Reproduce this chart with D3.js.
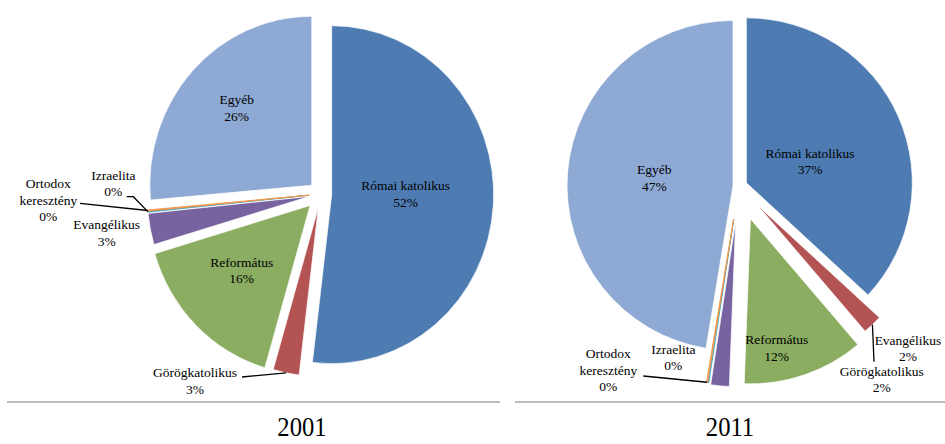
<!DOCTYPE html>
<html>
<head>
<meta charset="utf-8">
<script src="https://cdn.jsdelivr.net/npm/d3@7/dist/d3.min.js"></script>
<style>
  body { margin: 0; background: #fff; }
  svg { display: block; }
</style>
</head>
<body>
<svg id="chart" width="945" height="444"></svg>
<script>
// data (percent of population)
var categories = ["Római katolikus", "Görögkatolikus", "Református", "Evangélikus", "Izraelita", "Ortodox keresztény", "Egyéb"];
var years = ["2001", "2011"];
var values2001 = [51.9, 2.6, 15.9, 3.0, 0.1, 0.1, 26.4];
var values2011 = [36.9, 1.9, 11.8, 1.8, 0.1, 0.1, 47.4];
var colors = ["#4E7CB2", "#B35353", "#8AAD61", "#7763A0", "#4BACC6", "#F79646", "#8EA9D3"];

// label text lines (name may wrap)
var labelLines = [["Római katolikus"], ["Görögkatolikus"], ["Református"], ["Evangélikus"], ["Izraelita"], ["Ortodox", "keresztény"], ["Egyéb"]];

var serif = "'Liberation Serif', 'Times New Roman', Times, serif";

// layout of each pie: centre, radii, how far each slice is pulled out, label spots
var layouts = [
  {
    cx: 321, cy: 194, rx: 162, ry: 169,
    explode: [10.7, 13, 15.5, 12, 12, 12, 12.5],
    labelPos: [[405.7, 185.5], [195, 372.5], [241.7, 262], [106.7, 224.5], [113.3, 175], [48.3, 183.3], [236.7, 99.5]],
    leaders: { 1: [[242, 377]], 4: [[126.7, 196.7], [133.3, 196.7]], 5: [[80, 203.3]] },
    titleX: 302, rule: [7, 500]
  },
  {
    cx: 739, cy: 186, rx: 166, ry: 165,
    explode: [8, 27, 35, 36, 34, 34, 6],
    labelPos: [[810, 153], [881.7, 371], [776.7, 339.5], [908, 340], [673.3, 349], [608.3, 353.3], [654.3, 169.3]],
    leaders: { 1: [[874, 361.7]], 5: [[643.3, 376]] },
    titleX: 730, rule: [515, 945]
  }
];

var allValues = [values2001, values2011];
var svg = d3.select("#chart");
var fontSize = 13.5, lineH = 16.7;

var pie = d3.pie().sort(null).value(function(d) { return d; });

allValues.forEach(function(vals, p) {
  var L = layouts[p];
  var k = L.ry / L.rx;
  var arcs = pie(vals);
  var arc = d3.arc().innerRadius(0).outerRadius(L.rx);

  var g = svg.append("g")
    .attr("transform", "translate(" + L.cx + "," + L.cy + ") scale(1," + k + ")");

  g.selectAll("path")
    .data(arcs)
    .enter().append("path")
    .attr("d", arc)
    .attr("transform", function(d, i) {
      var a = (d.startAngle + d.endAngle) / 2;
      return "translate(" + (L.explode[i] * Math.sin(a)) + "," + (-L.explode[i] * Math.cos(a)) + ")";
    })
    .attr("fill", function(d, i) { return colors[i]; })
    .attr("stroke", function(d, i) { return d.value < 1 ? colors[i] : "#fff"; })
    .attr("stroke-width", function(d) { return d.value < 1 ? 0.9 : 0.7; })
    .attr("vector-effect", "non-scaling-stroke");

  // outer point of a slice (screen coords)
  function outerPoint(d, i) {
    var a = (d.startAngle + d.endAngle) / 2;
    var dist = L.explode[i] + L.rx;
    return [L.cx + dist * Math.sin(a), L.cy - dist * Math.cos(a) * k];
  }

  // leader lines
  Object.keys(L.leaders).forEach(function(key) {
    var i = +key;
    var pts = L.leaders[key].concat([outerPoint(arcs[i], i)]);
    svg.append("path")
      .attr("d", d3.line()(pts))
      .attr("fill", "none")
      .attr("stroke", "#000")
      .attr("stroke-width", 1.3);
  });

  // labels
  arcs.forEach(function(d, i) {
    var pos = L.labelPos[i];
    var lines = labelLines[i].concat([Math.round(d.value / d3.sum(vals) * 100) + "%"]);
    var t = svg.append("text")
      .attr("text-anchor", "middle")
      .attr("font-family", serif)
      .attr("font-size", fontSize)
      .attr("fill", "#000");
    lines.forEach(function(s, j) {
      t.append("tspan")
        .attr("x", pos[0])
        .attr("y", pos[1] + 4.6 + j * lineH)
        .text(s);
    });
  });

  // horizontal rule below each pie
  svg.append("line")
    .attr("x1", L.rule[0]).attr("x2", L.rule[1])
    .attr("y1", 402).attr("y2", 402)
    .attr("stroke", "#A6A6A6")
    .attr("stroke-width", 1.5);

  // year caption
  svg.append("text")
    .attr("transform", "translate(" + L.titleX + ",436) scale(0.88,1)")
    .attr("text-anchor", "middle")
    .attr("font-family", serif)
    .attr("font-size", 28)
    .attr("fill", "#000")
    .text(years[p]);
});
</script>
</body>
</html>
